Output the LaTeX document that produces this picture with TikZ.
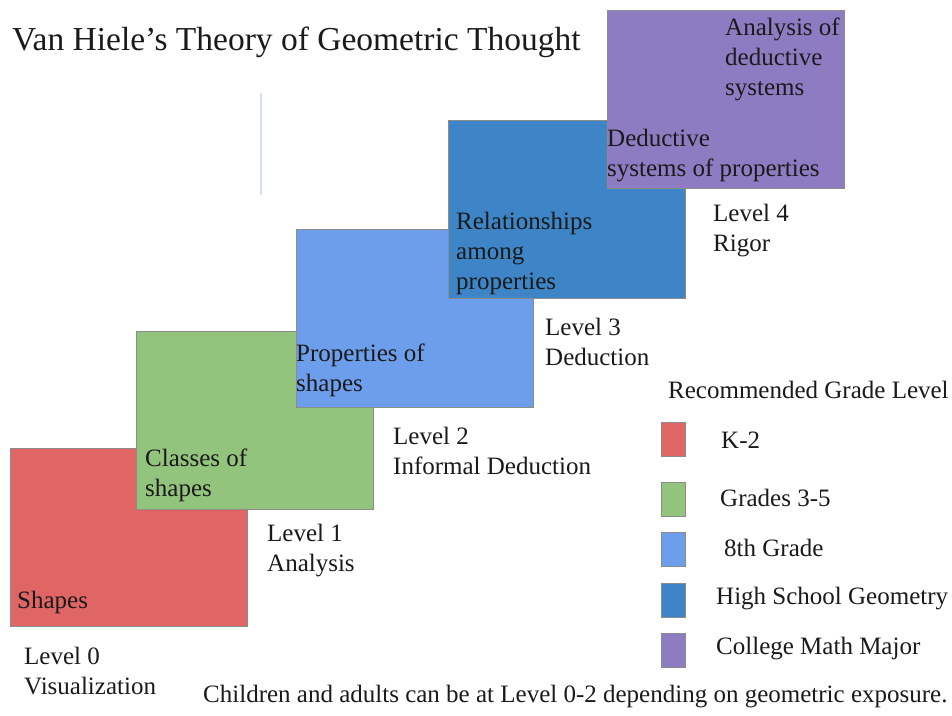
\documentclass[tikz,border=0pt]{standalone}
\usepackage{fontspec}
\setmainfont{Liberation Serif}
\definecolor{cred}{HTML}{E06666}
\definecolor{cgreen}{HTML}{93C47D}
\definecolor{clblue}{HTML}{6D9EEB}
\definecolor{cblue}{HTML}{3D85C6}
\definecolor{cpurple}{HTML}{8E7CC3}
\definecolor{ctext}{HTML}{1A1A1A}
\definecolor{cline}{HTML}{D5E2F2}
\begin{document}
\begin{tikzpicture}[x=1pt,y=-1pt,
  lvlbox/.style={draw=black!45,line width=0.8pt,anchor=north west,inner sep=0pt,minimum width=237pt,minimum height=178pt},
  legbox/.style={draw=black!45,line width=0.8pt,anchor=north west,inner sep=0pt,minimum width=24pt,minimum height=34pt},
  lbl/.style={anchor=west,inner sep=0pt,align=left,text=ctext,font=\fontsize{25}{30}\selectfont}]
\useasboundingbox (0,0) rectangle (952,715);
\node[anchor=west,inner sep=0pt,text=ctext,font=\fontsize{33.5}{38}\selectfont] (title) at (12,42) {Van Hiele’s Theory of Geometric Thought};
\draw[cline,line width=2pt] (261,93) -- (261,195);
% level boxes
\node[lvlbox,fill=cred] (b0) at (10,448) {};
\node[lbl] (t0) at (17,602) {Shapes};
\node[lvlbox,fill=cgreen] (b1) at (136,331) {};
\node[lbl] (t1) at (145,475) {Classes of\\shapes};
\node[lvlbox,fill=clblue] (b2) at (296,229) {};
\node[lbl] (t2) at (296,370) {Properties of\\shapes};
\node[lvlbox,fill=cblue] (b3) at (448,120) {};
\node[lbl] (t3) at (456,253) {Relationships\\among\\properties};
\node[lvlbox,fill=cpurple] (b4) at (607,10) {};
\node[lbl] (t4) at (607,156) {Deductive\\systems of properties};
\node[lbl] (t5) at (725,59) {Analysis of\\deductive\\systems};
% level labels
\node[lbl] (l0) at (24,671) {Level 0\\Visualization};
\node[lbl] (l1) at (267,551) {Level 1\\Analysis};
\node[lbl] (l2) at (393,450.5) {Level 2\\Informal Deduction};
\node[lbl] (l3) at (545,341.5) {Level 3\\Deduction};
\node[lbl] (l4) at (713,230.5) {Level 4\\Rigor};
% legend
\node[lbl] (lt) at (668,390) {Recommended Grade Level};
\node[legbox,fill=cred] (g0) at (661,422) {};
\node[lbl] (k0) at (721,440) {K-2};
\node[legbox,fill=cgreen] (g1) at (661,482) {};
\node[lbl] (k1) at (720,498) {Grades 3-5};
\node[legbox,fill=clblue] (g2) at (661,532) {};
\node[lbl] (k2) at (724,548) {8th Grade};
\node[legbox,fill=cblue] (g3) at (661,583) {};
\node[lbl] (k3) at (716,599) {High School Geometry};
\node[legbox,fill=cpurple] (g4) at (661,633) {};
\node[lbl] (k4) at (716,649) {College Math Major};
\node[lbl] (foot) at (203,697) {Children and adults can be at Level 0-2 depending on geometric exposure.};
\end{tikzpicture}
\end{document}
